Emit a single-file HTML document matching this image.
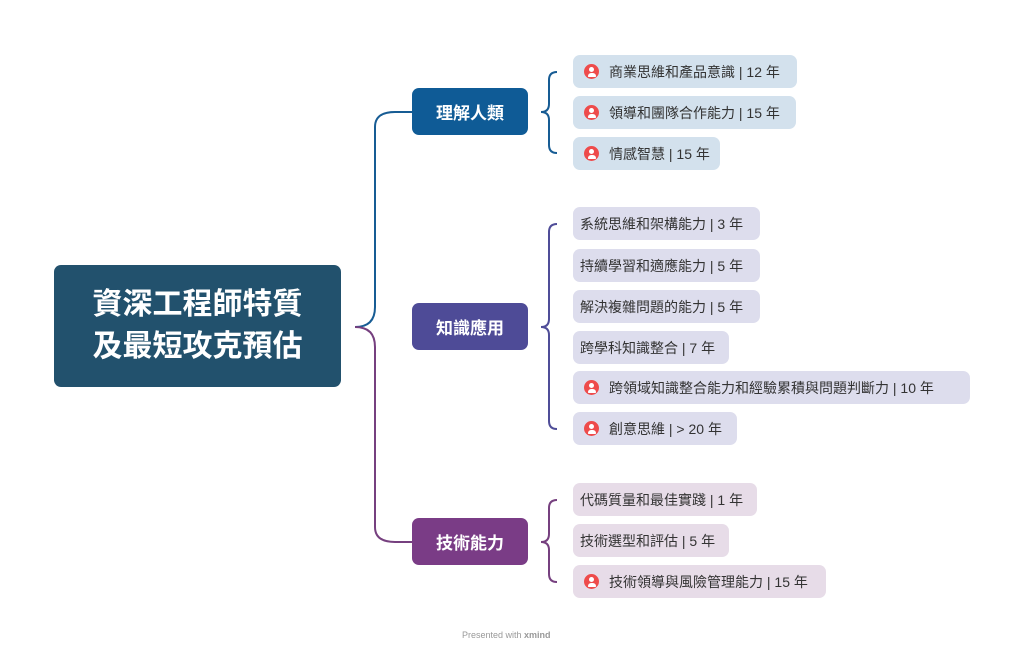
<!DOCTYPE html>
<html><head><meta charset="utf-8"><style>
body{margin:0;width:1024px;height:653px;background:#fff;position:relative;overflow:hidden;font-family:"Liberation Sans","Noto Sans CJK TC",sans-serif}
.n{position:absolute;box-sizing:border-box;border-radius:7px;display:flex;align-items:center}
.root{left:54px;top:265px;width:287px;height:122px;background:#22516d;color:#fff;font-size:30px;font-weight:bold;justify-content:center;text-align:center;line-height:42px}
.b{left:412px;width:116px;height:47px;color:#fff;font-size:17px;font-weight:bold;justify-content:center}
.l{left:573px;height:33px;font-size:14px;color:#333;padding-left:7px;white-space:nowrap}
.g1{background:#d3e1ed}.g2{background:#dddded}.g3{background:#e7dce8}
.ic{width:15px;height:15px;border-radius:50%;background:#ee4b4b;margin:0 10px 0 4px;position:relative;flex:none}
.ic:before{content:"";position:absolute;left:5px;top:3px;width:5px;height:5px;border-radius:50%;background:#fff}
.ic:after{content:"";position:absolute;left:3.5px;top:8.5px;width:8px;height:4px;border-radius:4px 4px 1px 1px;background:#fff}
.ft{position:absolute;top:630px;left:462px;font-size:9px;color:#999}
</style></head><body>
<svg width="1024" height="653" style="position:absolute;left:0;top:0" fill="none" stroke-width="2">
<path d="M355 327 Q375 327 375 307 L375 127 Q375 112 395 112 L412 112" stroke="#175c94"/>
<path d="M355 327 Q375 327 375 347 L375 527 Q375 542 395 542 L412 542" stroke="#76407f"/>
<path d="M557 72 Q549 72 549 80 L549 104 Q549 112 541 112 Q549 112 549 120 L549 145 Q549 153 557 153" stroke="#175c94"/>
<path d="M557 224 Q549 224 549 232 L549 319 Q549 327 541 327 Q549 327 549 335 L549 421 Q549 429 557 429" stroke="#4f4d98"/>
<path d="M557 500 Q549 500 549 508 L549 534 Q549 542 541 542 Q549 542 549 550 L549 574 Q549 582 557 582" stroke="#76407f"/>
</svg>
<div class="n root">資深工程師特質<br>及最短攻克預估</div>
<div class="n b" style="top:88px;background:#0f5b96">理解人類</div>
<div class="n b" style="top:303px;background:#4e4b97">知識應用</div>
<div class="n b" style="top:518px;background:#7a3c86">技術能力</div>
<div class="n l g1" style="top:55px;width:224px"><span class="ic"></span>商業思維和產品意識 | 12 年</div>
<div class="n l g1" style="top:96px;width:223px"><span class="ic"></span>領導和團隊合作能力 | 15 年</div>
<div class="n l g1" style="top:137px;width:147px"><span class="ic"></span>情感智慧 | 15 年</div>
<div class="n l g2" style="top:207px;width:187px">系統思維和架構能力 | 3 年</div>
<div class="n l g2" style="top:249px;width:187px">持續學習和適應能力 | 5 年</div>
<div class="n l g2" style="top:290px;width:187px">解決複雜問題的能力 | 5 年</div>
<div class="n l g2" style="top:331px;width:156px">跨學科知識整合 | 7 年</div>
<div class="n l g2" style="top:371px;width:397px"><span class="ic"></span>跨領域知識整合能力和經驗累積與問題判斷力 | 10 年</div>
<div class="n l g2" style="top:412px;width:164px"><span class="ic"></span>創意思維 | &gt; 20 年</div>
<div class="n l g3" style="top:483px;width:184px">代碼質量和最佳實踐 | 1 年</div>
<div class="n l g3" style="top:524px;width:156px">技術選型和評估 | 5 年</div>
<div class="n l g3" style="top:565px;width:253px"><span class="ic"></span>技術領導與風險管理能力 | 15 年</div>
<div class="ft">Presented with <b>xmind</b></div>
</body></html>
